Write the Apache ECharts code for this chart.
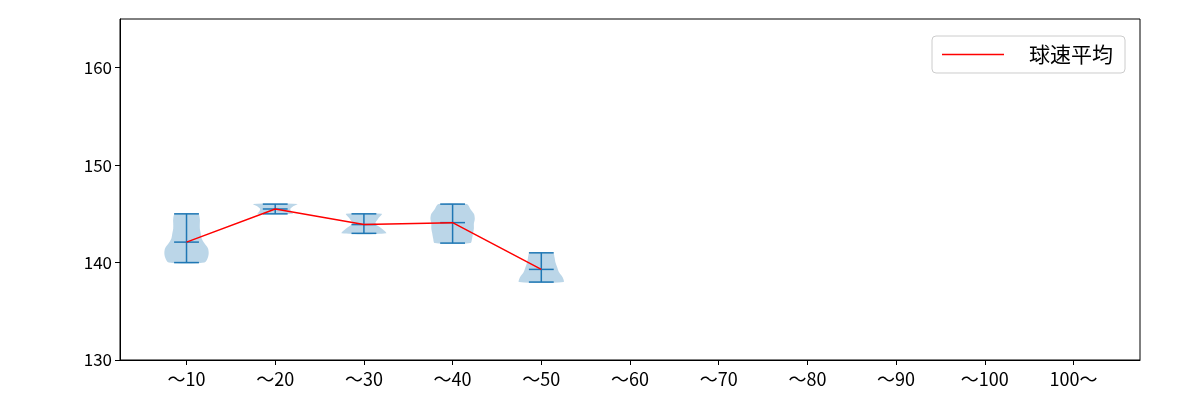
<!DOCTYPE html>
<html><head><meta charset="utf-8">
<script src="https://cdn.jsdelivr.net/npm/echarts@6/dist/echarts.min.js"></script>
<style>html,body{margin:0;padding:0}#c{width:1200px;height:400px}</style>
</head><body><div id="c"></div>
<script>
const categories = ['～10','～20','～30','～40','～50','～60','～70','～80','～90','～100','100～']
const means = [142.1, 145.5, 143.9, 144.1, 139.3]
const mins = [140, 145, 143, 142, 138]
const maxs = [145, 146, 145, 146, 141]
const yTicks = [130, 140, 150, 160]
// violin outlines: y levels and half widths (in category units)
const violinYs = [
  [140,140.5,141,141.5,142,142.5,143,143.5,144,144.5,145],
  [145,145.25,145.5,145.75,146],
  [143,143.5,144,144.5,145],
  [142,142.5,143,143.5,144,144.5,145,145.5,146],
  [138,138.5,139,139.5,140,140.5,141]
]
const violinWidths = [
  [0.2,0.24,0.25,0.24,0.2,0.17,0.16,0.15,0.15,0.15,0.13],
  [0.2,0.18,0.17,0.2,0.25],
  [0.25,0.2,0.13,0.16,0.2],
  [0.2,0.22,0.23,0.24,0.24,0.25,0.24,0.2,0.16],
  [0.25,0.24,0.2,0.18,0.16,0.15,0.13]
]

const chart = echarts.init(document.getElementById('c'))
const font = '"Noto Sans CJK JP", "DejaVu Sans", sans-serif'
const blue = '#1f77b4'
const capW = 0.14
const xPos = categories.map((c, i) => i + 1)

chart.setOption({
  animation: false,
  textStyle: { fontFamily: font },
  grid: { left: 120, right: 60, top: 19, bottom: 40 },
  legend: {
    right: 75, top: 36,
    data: ['球速平均'],
    icon: 'rect', itemWidth: 62, itemHeight: 1.5,
    borderColor: '#ccc', borderWidth: 1, borderRadius: 4,
    padding: [8, 12, 8, 10],
    textStyle: { fontSize: 21, color: '#000', fontFamily: font, padding: [0, 0, 0, 20] }
  },
  xAxis: {
    type: 'value', min: 0.25, max: 11.75,
    splitLine: { show: false },
    axisLine: { lineStyle: { color: '#000' } },
    axisTick: { show: true, length: 5, customValues: xPos, lineStyle: { color: '#000' } },
    axisLabel: {
      fontSize: 18, color: '#000', margin: 10,
      customValues: xPos,
      formatter: v => categories[Math.round(v) - 1] || ''
    }
  },
  yAxis: {
    type: 'value', min: 130, max: 165,
    splitLine: { show: false },
    axisLine: { show: true, lineStyle: { color: '#000' } },
    axisTick: { show: true, length: 5, customValues: yTicks, lineStyle: { color: '#000' } },
    axisLabel: { fontSize: 17, color: '#000', customValues: yTicks }
  },
  series: [
    {
      type: 'custom', silent: true,
      data: means.map((m, i) => [i + 1, m]),
      renderItem(params, api) {
        const i = params.dataIndex
        const x = i + 1
        const ys = violinYs[i], ws = violinWidths[i]
        const pts = []
        ys.forEach((y, k) => pts.push(api.coord([x - ws[k], y])))
        for (let k = ys.length - 1; k >= 0; k--) pts.push(api.coord([x + ws[k], ys[k]]))
        const line = (a, b) => ({ type: 'line', shape: { x1: a[0], y1: a[1], x2: b[0], y2: b[1] }, style: { stroke: blue, lineWidth: 1.5 } })
        return { type: 'group', children: [
          { type: 'polygon', shape: { points: pts, smooth: 0.3 }, style: { fill: 'rgba(31,119,180,0.3)' } },
          line(api.coord([x, mins[i]]), api.coord([x, maxs[i]])),
          line(api.coord([x - capW, mins[i]]), api.coord([x + capW, mins[i]])),
          line(api.coord([x - capW, maxs[i]]), api.coord([x + capW, maxs[i]])),
          line(api.coord([x - capW, means[i]]), api.coord([x + capW, means[i]]))
        ] }
      },
      z: 2
    },
    {
      name: '球速平均', type: 'line', symbol: 'none',
      data: means.map((m, i) => [i + 1, m]),
      lineStyle: { color: 'red', width: 1.5 },
      itemStyle: { color: 'red' }, z: 3
    }
  ],
  graphic: [{
    type: 'rect', shape: { x: 120, y: 19, width: 1020, height: 341 },
    style: { fill: 'none', stroke: '#000', lineWidth: 1 }, silent: true
  }]
})
</script></body></html>
